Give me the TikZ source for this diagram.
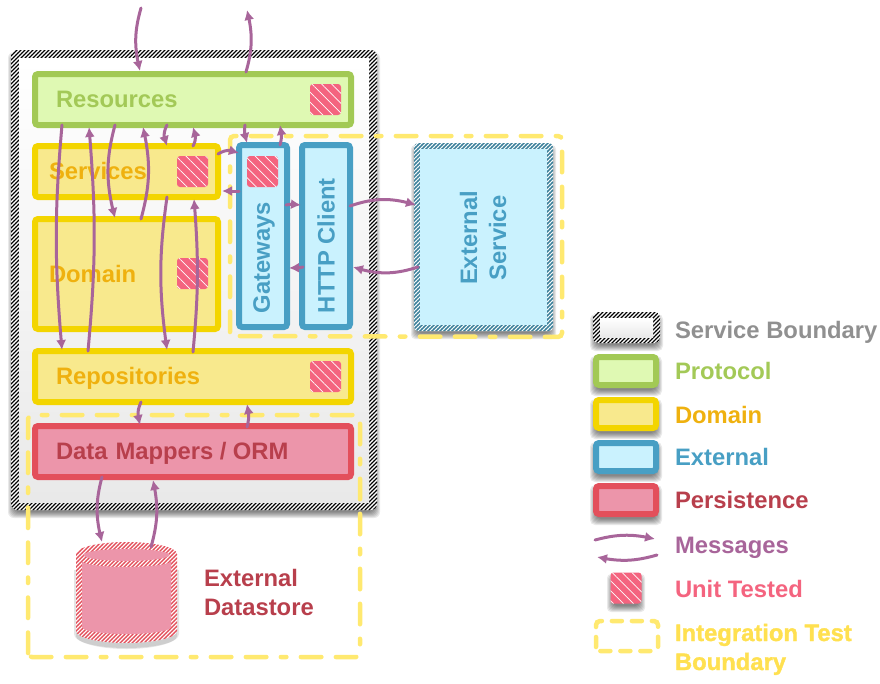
\documentclass[tikz,border=0pt]{standalone}
\usepackage{fontspec}
\setmainfont{Liberation Sans}
\newfontfamily\glowf[BoldFeatures={FakeBold=1.5}]{Liberation Sans}
\usetikzlibrary{arrows.meta,patterns.meta,calc,bending}
\definecolor{pbord}{HTML}{A2C955}\definecolor{pfill}{HTML}{DFF9B3}\definecolor{ptext}{HTML}{A3C957}
\definecolor{dbord}{HTML}{F3D500}\definecolor{dfill}{HTML}{F8E98D}\definecolor{dtext}{HTML}{EFB10F}
\definecolor{ebord}{HTML}{489FC4}\definecolor{efill}{HTML}{CAF2FE}\definecolor{ehatch}{HTML}{3A7F99}\definecolor{etext}{HTML}{489FC4}
\definecolor{rbord}{HTML}{E34F5B}\definecolor{rfill}{HTML}{EC95AA}\definecolor{rtext}{HTML}{B83F4C}
\definecolor{msgc}{HTML}{A8659A}\definecolor{unitc}{HTML}{F4647F}\definecolor{dashc}{HTML}{FFE970}
\definecolor{itext}{HTML}{FFE050}\definecolor{sbtext}{HTML}{909090}\definecolor{sbbot}{HTML}{E9E9E9}
\tikzset{
 x=1pt,y=-1pt,
 lbl/.style={font=\bfseries\fontsize{23.8}{29}\selectfont,inner sep=0pt,outer sep=0pt,align=left},
 box/.style={draw=#1bord,fill=#1fill,line width=6pt,rounded corners=3pt,outer sep=0pt,text=#1text,
   font=\bfseries\fontsize{23.8}{29}\selectfont,text height=16.4pt,text depth=0pt},
 wide/.style={anchor=north west,minimum width=316pt,minimum height=51pt,inner xsep=21pt,inner ysep=0pt,text width=274pt,align=left},
 narrow/.style={anchor=north west,minimum width=183pt,inner xsep=14pt,inner ysep=0pt,text width=155pt,align=left},
 tall/.style={anchor=north west,minimum width=48pt,minimum height=182pt,inner sep=0pt},
 msg/.style={draw=msgc,line width=3pt,-{Latex[length=10pt,width=10pt,flex]},line cap=round},
 idash/.style={draw=dashc,line width=4.5pt,line cap=round,rounded corners=4pt,dash pattern=on 20.5pt off 14.5pt on 20.5pt off 14.5pt on 5.5pt off 14.5pt},
 hatchb/.style={pattern={Lines[angle=45,distance=2.8284pt,line width=1.25pt]},pattern color=black},
 hatche/.style={pattern={Lines[angle=45,distance=2.8284pt,line width=1.5pt]},pattern color=ehatch},
 hatchr/.style={pattern={Lines[angle=45,distance=2.8284pt,line width=1.4142pt]},pattern color=rbord},
 hatchu/.style={pattern={Lines[angle=-45,distance=7pt,line width=0.7pt]},pattern color=white},
}
\newcommand{\softshad}[5][3]{% radius; x0,y0,x1,y1
 \foreach \d in {-3,-2,-1,0,1,2,3}{
  \fill[black,opacity=0.085,rounded corners=#1pt] ({#2-\d},{#3+5-\d}) rectangle ({#4+\d},{#5+5+\d});}}
\newcommand{\unitsq}[3]{% name,x,y
 \fill[unitc,rounded corners=3pt] (#2,#3) rectangle ++(31,31);
 \path[hatchu,rounded corners=3pt] (#2,#3) rectangle ++(31,31);}
\begin{document}
\begin{tikzpicture}
\useasboundingbox (0,0) rectangle (880,683);
% service boundary
\softshad[6]{11}{50}{377}{510}
\fill[white,rounded corners=6pt] (11,50) rectangle (377,510);
\path[hatchb,rounded corners=6pt] (11,50) rectangle (377,510);
\shade[top color=white,bottom color=sbbot] (19,58) rectangle (369,502);
% boxes
\node[box=p,wide] (res) at (35,74) {Resources};
\node[box=d,narrow,minimum height=51pt] (srv) at (35,146) {Services};
\node[box=d,narrow,minimum height=110pt] (dom) at (35,219) {Domain};
\node[box=d,wide] (rep) at (35,351) {Repositories};
\node[box=r,wide] (dat) at (35,426) {Data Mappers\kern-1.5pt{} /\kern-1.5pt{} ORM};
\node[box=e,tall] (gat) at (239,145) {};
\node[box=e,tall] (htt) at (302,145) {};
\node[lbl,text=ebord,rotate=90,anchor=west] (gatl) at (264,313) {Gateways};
\node[lbl,text=ebord,rotate=90,anchor=west] (httl) at (326,313) {HTTP Client};
\unitsq{u1}{310}{84}
\unitsq{u2}{177}{156}
\unitsq{u3}{177}{258}
\unitsq{u4}{310}{361}
\unitsq{u5}{247}{156}
% external service
\softshad[4]{414}{143}{553}{331}
\fill[white,rounded corners=4pt] (414,143) rectangle (553,331);
\path[hatche,rounded corners=4pt] (414,143) rectangle (553,331);
\node[fill=efill,anchor=north west,minimum width=127pt,minimum height=176pt,inner sep=0pt,outer sep=0pt] (ext) at (420,149) {};
\node[lbl,text=ebord,rotate=90,align=center] (extl) at (483,238) {External\\Service};
% datastore
\fill[black,opacity=0.10] (76,570) -- (177,570) -- (177,636) arc[start angle=0,end angle=-180,x radius=50.5pt,y radius=12pt] -- cycle;
\fill[black,opacity=0.10] (74,570) -- (179,570) -- (179,634) arc[start angle=0,end angle=-180,x radius=52.5pt,y radius=15pt] -- cycle;
\fill[white] (76,554) arc[start angle=180,end angle=0,x radius=50.5pt,y radius=12pt] -- (177,631) arc[start angle=0,end angle=-180,x radius=50.5pt,y radius=12pt] -- cycle;
\path[hatchr] (76,554) arc[start angle=180,end angle=0,x radius=50.5pt,y radius=12pt] -- (177,631) arc[start angle=0,end angle=-180,x radius=50.5pt,y radius=12pt] -- cycle;
\fill[rfill] (126.5,555) ellipse[x radius=43pt,y radius=6pt];
\fill[rfill] (82,561) arc[start angle=180,end angle=360,x radius=44.5pt,y radius=6pt] -- (171,627) arc[start angle=0,end angle=-180,x radius=44.5pt,y radius=7pt] -- cycle;
\node[inner sep=0pt,outer sep=0pt,minimum width=101pt,minimum height=101pt,anchor=north west] (store) at (76,542) {};
\node[lbl,text=rtext,anchor=base west] (storel) at (204,586) {External};
\node[lbl,text=rtext,anchor=base west] (storem) at (204,615) {Datastore};
% integration boundaries
\draw[idash] (230,336) -- (230,136) -- (562,136) -- (562,337) -- cycle;
\draw[idash] (28,657) -- (28,415) -- (360,415) -- (360,657) -- cycle;
% connectors
\coordinate (topin) at (141,8);
\coordinate (topout) at (247,10);
\draw[msg] (topin) to[bend right=15] ([xshift=105,yshift=3]res.north west);
\draw[msg] ([xshift=211,yshift=2]res.north west) to[bend right=15] (topout);
\draw[msg] ([xshift=27]res.south west) to[bend right=5] ([xshift=27,yshift=1]rep.north west);
\draw[msg] ([xshift=53]rep.north west) to[bend right=5] ([xshift=54,yshift=-2]res.south west);
\draw[msg] ([xshift=80]res.south west) to[bend right=15] ([xshift=80,yshift=1]dom.north west);
\draw[msg] ([xshift=106]dom.north west) to[bend right=14] ([xshift=108,yshift=-2]res.south west);
\draw[msg] ([xshift=132]res.south west) to[bend right=28] ([xshift=132]srv.north west);
\draw[msg] ([xshift=158]srv.north west) to[bend right=28] ([xshift=158,yshift=-2]res.south west);
\draw[msg] ([yshift=-8]srv.north east) to[bend left=30] ([yshift=-8]gat.north west);
\draw[msg] ([yshift=-46]gat.north west) -- ([xshift=4,yshift=6]srv.south east);
\draw[msg] ([xshift=6]gat.north west |- res.south) to[bend right=15] ([xshift=8,yshift=2]gat.north west);
\draw[msg] ([xshift=41]gat.north west) to[bend right=15] ([xshift=41]gat.north west |- res.south);
\draw[msg] ([xshift=-1,yshift=-60]gat.north east) to[bend left=12] ([xshift=-1,yshift=-60]htt.north west);
\draw[msg] ([xshift=1,yshift=-122]htt.north west) to[bend left=8] ([xshift=2,yshift=-123]gat.north east);
\draw[msg] ([yshift=-61]htt.north east) to[bend left=18] ([xshift=-4,yshift=-56]ext.north west);
\draw[msg] ([xshift=-2,yshift=-118]ext.north west) to[bend left=18] ([xshift=3,yshift=-122]htt.north east);
\draw[msg] ([xshift=132,yshift=0]srv.south west) to[bend right=8] ([xshift=132,yshift=1]rep.north west);
\draw[msg] ([xshift=158,yshift=-1]rep.north west) to[bend right=5] ([xshift=159,yshift=-2]srv.south west);
\draw[msg] ([xshift=106,yshift=0]rep.south west) to[bend right=22] ([xshift=105,yshift=1]dat.north west);
\draw[msg] ([xshift=212,yshift=-1]dat.north west) to[bend right=15] ([xshift=212,yshift=-2]rep.south west);
\draw[msg] ([xshift=67,yshift=0]dat.south west) to[bend right=15] ([xshift=26]store.north west);
\draw[msg] ([xshift=75,yshift=-5]store.north west) to[bend right=14] ([xshift=118,yshift=-3]dat.south west);
% legend
\softshad[5]{593}{312}{660}{343}
\fill[white,rounded corners=5pt] (593,312) rectangle (660,343);
\path[hatchb,rounded corners=5pt] (593,312) rectangle (660,343);
\shade[top color=white,bottom color=sbbot] (600,318) rectangle (653,337);
\softshad[5]{593}{354}{659}{388}
\softshad[5]{593}{397}{659}{431}
\softshad[5]{593}{440}{659}{474}
\softshad[5]{593}{483}{659}{517}
\node[box=p,anchor=north west,minimum width=60pt,minimum height=28pt,inner sep=0pt] (lp) at (596,357) {};
\node[box=d,anchor=north west,minimum width=60pt,minimum height=28pt,inner sep=0pt] (ld) at (596,400) {};
\node[box=e,anchor=north west,minimum width=60pt,minimum height=28pt,inner sep=0pt] (le) at (596,443) {};
\node[box=r,anchor=north west,minimum width=60pt,minimum height=28pt,inner sep=0pt] (lr) at (596,486) {};
\coordinate (ma) at (595,540); \coordinate (mb) at (655,539);
\coordinate (mc) at (657,555); \coordinate (md) at (597,557);
\draw[msg] (ma) to[bend left=14] (mb);
\draw[msg] (mc) to[bend left=14] (md);
\softshad[4]{610}{572}{642}{604}
\unitsq{u6}{610.5}{572.5}
\draw[idash,dash pattern=on 10pt off 10pt] (596,651) -- (596,621) -- (658,621) -- (658,651) -- cycle;
\node[lbl,text=sbtext,anchor=base west] (t1) at (675,338) {Service Boundary};
\node[lbl,text=ptext,anchor=base west] (t2) at (675,379) {Protocol};
\node[lbl,text=dtext,anchor=base west] (t3) at (675,423) {Domain};
\node[lbl,text=ebord,anchor=base west] (t4) at (675,465) {External};
\node[lbl,text=rtext,anchor=base west] (t5) at (675,508) {Persistence};
\node[lbl,text=msgc,anchor=base west] (t6) at (675,553) {Messages};
\node[lbl,text=unitc,anchor=base west] (t7) at (675,597) {Unit Tested};
\node[lbl,text=itext,anchor=base west,font=\glowf\bfseries\fontsize{23.8}{29}\selectfont] (t8) at (675,641) {Integration Test};
\node[lbl,text=itext,anchor=base west,font=\glowf\bfseries\fontsize{23.8}{29}\selectfont] (t9) at (675,670) {Boundary};
\end{tikzpicture}
\end{document}
